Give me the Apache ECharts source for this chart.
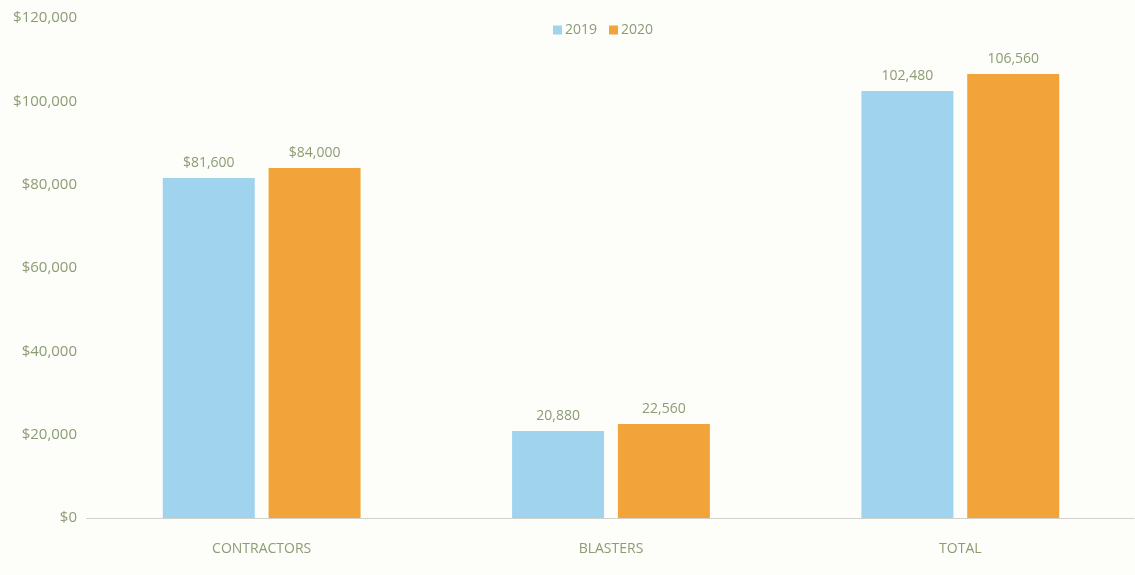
<!DOCTYPE html>
<html>
<head>
<meta charset="utf-8">
<script src="https://cdn.jsdelivr.net/npm/echarts@6/dist/echarts.min.js"></script>
<style>
  html, body { margin: 0; padding: 0; background: #fdfdfa; }
  #chart { width: 1135px; height: 575px; }
</style>
</head>
<body>
<div id="chart"></div>
<script>
// 分类和数据
var categories = ["CONTRACTORS", "BLASTERS", "TOTAL"];
var data2019 = [81600, 20880, 102480];
var data2020 = [84000, 22560, 106560];
var seriesNames = ["2019", "2020"];
// 只有第一组标签带 $
var dollarLabel = [true, false, false];

var textColor = "#8c9c74";

function fmtNum(v) {
  return String(v).replace(/\B(?=(\d{3})+(?!\d))/g, ",");
}

var myChart = echarts.init(document.getElementById("chart"));
var labelOpt = {
  show: true,
  position: "top",
  distance: 8,
  color: textColor,
  fontFamily: "Open Sans",
  fontSize: 14,
  formatter: function(p) {
    return (dollarLabel[p.dataIndex] ? "$" : "") + fmtNum(p.value);
  }
};
var option = {
  backgroundColor: "#fdfdfa",
  textStyle: { fontFamily: "Open Sans", color: textColor },
  color: ["#a0d3ee", "#f2a43a"],
  legend: {
    top: 18,
    left: 548,
    itemWidth: 9,
    itemHeight: 9,
    itemGap: 12,
    icon: "rect",
    textStyle: { color: textColor, fontSize: 14, padding: [0, 0, 0, -2] },
    data: seriesNames
  },
  grid: {
    left: 87,
    right: 0,
    top: 18,
    bottom: 57
  },
  xAxis: {
    type: "category",
    data: categories,
    axisLine: { lineStyle: { color: "#c8c8c0", type: "dotted" } },
    axisTick: { show: false },
    axisLabel: { color: textColor, fontSize: 14, margin: 24 }
  },
  yAxis: {
    type: "value",
    min: 0,
    max: 120000,
    interval: 20000,
    axisLine: { show: false },
    axisTick: { show: false },
    splitLine: { show: false },
    axisLabel: {
      color: textColor,
      fontSize: 15,
      margin: 10,
      formatter: function(v) { return "$" + fmtNum(v); }
    }
  },
  series: [
    {
      name: seriesNames[0],
      type: "bar",
      barWidth: 92,
      barGap: "15%",
      label: labelOpt,
      data: data2019
    },
    {
      name: seriesNames[1],
      type: "bar",
      barWidth: 92,
      barGap: "15%",
      label: labelOpt,
      data: data2020
    }
  ]
};
myChart.setOption(option);
</script>
</body>
</html>
